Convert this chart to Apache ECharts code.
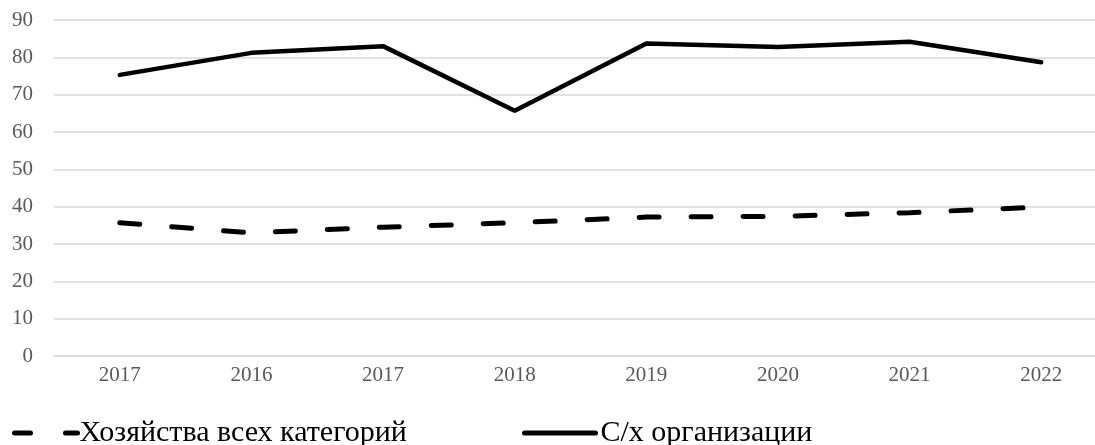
<!DOCTYPE html>
<html>
<head>
<meta charset="utf-8">
<script src="https://cdn.jsdelivr.net/npm/echarts@6/dist/echarts.min.js"></script>
<style>
  html, body { margin: 0; padding: 0; background: #fff; overflow: hidden; }
  /* холст чуть шире окна: правый край сетки обрезан, как в исходнике */
  #chart { width: 1107px; height: 445px; }
</style>
</head>
<body>
<div id="chart"></div>
<script>
// годы (в исходнике 2017 встречается дважды — оставляем как есть)
var years = ['2017', '2016', '2017', '2018', '2019', '2020', '2021', '2022'];
// Хозяйства всех категорий
var allFarms = [35.7, 33.0, 34.5, 35.7, 37.2, 37.4, 38.4, 39.9];
// С/х организации
var agroOrgs = [75.3, 81.2, 83.0, 65.7, 83.7, 82.8, 84.2, 78.7];
var seriesNames = ['Хозяйства всех категорий', 'С/х организации'];

var chart = echarts.init(document.getElementById('chart'));
var serif = '"Liberation Serif", "Times New Roman", serif';

chart.setOption({
  animation: false,
  grid: { left: 54, right: 0, top: 20, bottom: 89 },
  legend: [
    {
      data: [seriesNames[0]],
      left: 7, bottom: -8,
      itemWidth: 63, itemHeight: 14,
      itemStyle: { opacity: 0 },
      lineStyle: { width: 5, type: [16, 35], cap: 'round' },
      textStyle: { fontFamily: serif, fontSize: 30, color: '#000', padding: [0, 0, 0, -3] }
    },
    {
      data: [seriesNames[1]],
      left: 517, bottom: -8,
      itemWidth: 71, itemHeight: 14,
      itemStyle: { opacity: 0 },
      lineStyle: { width: 5, cap: 'round' },
      textStyle: { fontFamily: serif, fontSize: 30, color: '#000' }
    }
  ],
  xAxis: {
    type: 'category',
    data: years,
    axisLine: { lineStyle: { color: '#d9d9d9', width: 1.5 } },
    axisTick: { show: false },
    axisLabel: { fontFamily: serif, fontSize: 21, color: '#595959', margin: 9 }
  },
  yAxis: {
    type: 'value',
    min: 0, max: 90, interval: 10,
    axisLine: { show: false },
    axisTick: { show: false },
    splitLine: { lineStyle: { color: '#d9d9d9', width: 1.5 } },
    axisLabel: { fontFamily: serif, fontSize: 21, color: '#595959', margin: 21 }
  },
  series: [
    {
      name: seriesNames[0],
      type: 'line',
      data: allFarms,
      symbol: 'none',
      lineStyle: { color: '#000', width: 5, type: [20, 32], cap: 'round' },
      itemStyle: { color: '#000' }
    },
    {
      name: seriesNames[1],
      type: 'line',
      data: agroOrgs,
      symbol: 'none',
      lineStyle: { color: '#000', width: 4.5, cap: 'round' },
      itemStyle: { color: '#000' }
    }
  ]
});
</script>
</body>
</html>
